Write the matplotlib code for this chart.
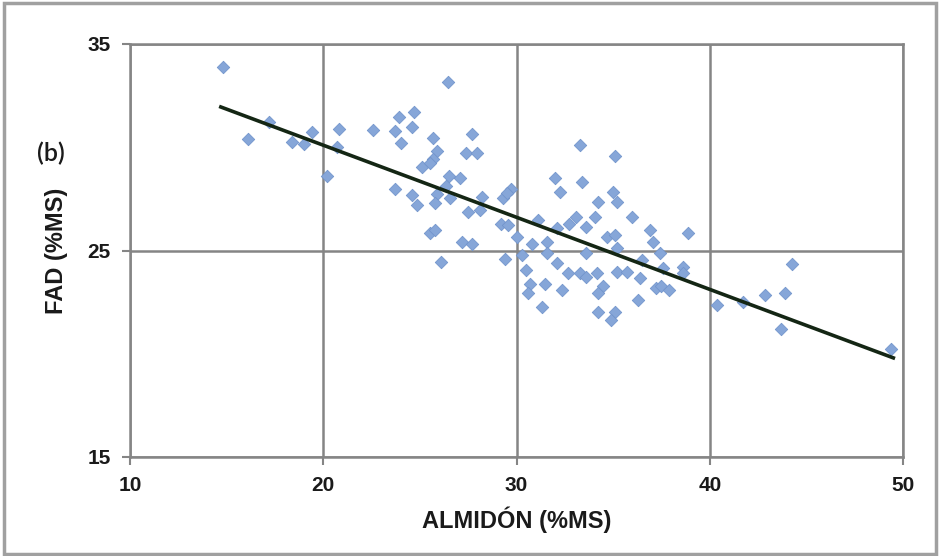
import matplotlib
matplotlib.use("Agg")
import matplotlib.pyplot as plt
from matplotlib.patches import Rectangle

# ---- data ----
almidon = [14.8, 16.1, 17.2, 18.4, 19.0, 19.4, 20.8, 20.7, 20.2, 22.6,
           26.45, 23.9, 24.7, 23.7, 24.6, 24.0, 25.7, 27.7, 25.9, 27.4,
           27.95, 25.7, 25.1, 25.5, 26.5, 27.1, 23.7, 24.6, 25.9, 28.2,
           29.7, 24.85, 25.8, 26.55, 27.5, 28.1, 29.3, 29.5, 29.2, 29.55,
           25.5, 25.8, 27.2, 27.7, 26.1, 29.4, 30.0, 26.35,
           33.3, 35.1, 32.0, 33.4, 32.25, 35.0, 35.2, 34.2, 36.0, 36.9,
           37.05, 38.9, 31.1, 30.3, 30.8, 31.6, 32.1, 32.7, 33.1, 33.6,
           34.05, 34.7, 35.1, 30.5, 30.7, 30.6, 31.3, 31.5, 32.1, 32.35,
           32.65, 33.3, 33.6, 34.15, 34.5, 34.2, 34.2, 35.1, 34.9, 35.2,
           35.7, 36.5, 36.4, 36.3, 37.2, 37.5, 37.9, 37.6, 37.4, 38.6,
           38.6, 40.4, 41.7, 42.85, 43.9, 44.25, 43.7, 49.4, 31.6, 33.6,
           35.2]
fad = [33.9, 30.4, 31.2, 30.25, 30.15, 30.75, 30.9, 30.0, 28.6, 30.85,
       33.15, 31.45, 31.7, 30.8, 31.0, 30.2, 30.45, 30.65, 29.8, 29.7,
       29.7, 29.45, 29.05, 29.25, 28.6, 28.5, 28.0, 27.7, 27.75, 27.6,
       28.0, 27.2, 27.3, 27.55, 26.85, 26.95, 27.55, 27.8, 26.3, 26.25,
       25.85, 26.0, 25.4, 25.3, 24.45, 24.6, 25.65, 28.1,
       30.1, 29.6, 28.5, 28.3, 27.85, 27.85, 27.35, 27.35, 26.6, 26.0,
       25.4, 25.85, 26.5, 24.8, 25.3, 25.4, 26.1, 26.3, 26.6, 26.15,
       26.6, 25.65, 25.75, 24.05, 23.4, 22.95, 22.25, 23.4, 24.4, 23.1,
       23.9, 23.9, 23.7, 23.9, 23.3, 22.95, 22.0, 22.0, 21.65, 23.95,
       23.95, 24.55, 23.65, 22.6, 23.2, 23.3, 23.1, 24.15, 24.9, 24.2,
       23.9, 22.35, 22.5, 22.85, 22.95, 24.35, 21.2, 20.25, 24.9, 24.9,
       25.1]

trend_x = [14.7, 49.5]
trend_y = [31.95, 19.8]

x_ticks = [10, 20, 30, 40, 50]
y_ticks = [15, 25, 35]

x_label = "ALMIDÓN (%MS)"
y_label = "FAD (%MS)"
panel_label = "(b)"

# ---- figure ----
fig = plt.figure(figsize=(9.4, 5.56), dpi=100)
ax = fig.add_axes([130 / 940, 1 - 457 / 556, (903 - 130) / 940, (457 - 44) / 556])

grid_col = "#858585"
ax.set_xlim(10, 50)
ax.set_ylim(15, 35)
tick_font = dict(fontsize=15, fontweight="bold", family="Liberation Sans", color="#1a1a1a")
ax.set_xticks(x_ticks)
ax.set_xticklabels([str(v) for v in x_ticks], **tick_font)
ax.set_yticks(y_ticks)
ax.set_yticklabels([str(v) for v in y_ticks], **tick_font)
ax.grid(True, color=grid_col, linewidth=1.8, zorder=0)
for s in ax.spines.values():
    s.set_color(grid_col)
    s.set_linewidth(1.8)
ax.tick_params(axis="both", colors=grid_col, labelcolor="#1a1a1a",
               length=6, width=1.5, pad=8)

ax.scatter(almidon, fad, marker="D", s=40, color="#86a6d8",
           edgecolors="#7395cc", linewidths=0.6, zorder=3)
ax.plot(trend_x, trend_y, color="#142614", linewidth=2.6, zorder=4)

ax.set_xlabel(x_label, fontsize=17, fontweight="bold", family="Liberation Sans",
              color="#1a1a1a", labelpad=8)
ax.set_ylabel(y_label, fontsize=17, fontweight="bold", family="Liberation Sans",
              color="#1a1a1a", labelpad=14)

fig.text(51 / 940, 1 - 153 / 556, panel_label, fontsize=18, family="Lato",
         fontweight="semibold", ha="center", va="center", color="#1a1a1a")

fig.patches.append(Rectangle((0.004, 0.004), 0.992, 0.99, transform=fig.transFigure,
                             fill=False, edgecolor="#a0a0a0", linewidth=2.5))

fig.savefig("out.png", dpi=100)
